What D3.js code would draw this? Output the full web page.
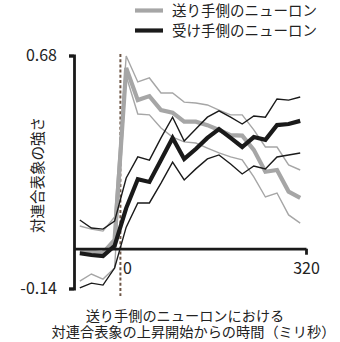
<!DOCTYPE html>
<html><head><meta charset="utf-8">
<script src="https://cdn.jsdelivr.net/npm/d3@7"></script>
<style>
html,body{margin:0;padding:0;background:#fff;}
svg{display:block;font-family:"Noto Sans CJK JP","Noto Sans",sans-serif;}
</style></head>
<body><svg id="c" width="340" height="342"></svg>
<script>
const times = [-70,-50,-30,-10,10,30,50,70,90,110,130,150,170,190,210,230,250,270,290,310];
const senderMean  = [-0.008,-0.010,-0.015,0.031,0.636,0.523,0.537,0.488,0.479,0.447,0.447,0.435,0.418,0.400,0.398,0.348,0.271,0.277,0.201,0.179];
const senderUpper = [0.080,0.069,0.062,0.112,0.678,0.587,0.601,0.548,0.548,0.516,0.513,0.506,0.488,0.471,0.471,0.418,0.358,0.358,0.295,0.277];
const senderLower = [-0.114,-0.089,-0.107,-0.068,0.608,0.474,0.471,0.425,0.393,0.376,0.372,0.354,0.337,0.323,0.313,0.253,0.182,0.196,0.119,0.090];
const receiverMean  = [-0.016,-0.022,-0.026,0.010,0.143,0.245,0.235,0.312,0.390,0.316,0.351,0.390,0.421,0.390,0.358,0.393,0.383,0.435,0.439,0.450];
const receiverUpper = [0.101,0.073,0.069,0.097,0.249,0.323,0.312,0.390,0.463,0.379,0.421,0.463,0.485,0.463,0.439,0.467,0.463,0.527,0.523,0.534];
const receiverLower = [-0.138,-0.121,-0.128,-0.068,0.076,0.161,0.161,0.231,0.305,0.242,0.281,0.316,0.330,0.298,0.263,0.291,0.281,0.323,0.330,0.337];
const xTicks = [0, 320];
const yTicks = [-0.14, 0.68];
const legendLabels = ["送り手側のニューロン", "受け手側のニューロン"];
const yTitle = "対連合表象の強さ";
const xTitleLines = ["送り手側のニューロンにおける", "対連合表象の上昇開始からの時間（ミリ秒）"];

const svg = d3.select("#c");
const x = d3.scaleLinear().domain([-80, 320]).range([74, 306]);
const y = d3.scaleLinear().domain([-0.14, 0.68]).range([288.5, 55.5]);
const gray = "#a6a6a6", dark = "#1a1a1a";

// dashed onset line
svg.append("line").attr("x1", x(0)).attr("x2", x(0)).attr("y1", 54).attr("y2", 296)
  .attr("stroke", "#6e5646").attr("stroke-width", 2).attr("stroke-dasharray", "3,2.2");

const line = d3.line().x((d, i) => x(times[i])).y(d => y(d));
const series = [
  {d: senderUpper, c: gray, w: 1.4},
  {d: senderLower, c: gray, w: 1.4},
  {d: senderMean, c: gray, w: 4.2},
  {d: receiverUpper, c: dark, w: 1.4},
  {d: receiverLower, c: dark, w: 1.4},
  {d: receiverMean, c: dark, w: 4.2}
];
series.forEach(s => {
  svg.append("path").attr("d", line(s.d)).attr("fill", "none")
    .attr("stroke", s.c).attr("stroke-width", s.w).attr("stroke-linejoin", "miter");
});

// y axis
const ya = svg.append("g").attr("transform", `translate(${x(-80)},0)`)
  .call(d3.axisLeft(y).tickValues(yTicks).tickFormat(d => d).tickSize(5).tickSizeOuter(5).tickPadding(12));
ya.select(".domain").attr("stroke", dark).attr("stroke-width", 2.8);
ya.selectAll(".tick line").attr("stroke", dark).attr("stroke-width", 2.8);
ya.selectAll(".tick text").attr("font-size", 16).attr("fill", "#222")
  .attr("font-family", "'Noto Sans CJK JP','Noto Sans',sans-serif");

// x axis
const xa = svg.append("g").attr("transform", `translate(0,${y(0)})`)
  .call(d3.axisBottom(x).tickValues(xTicks).tickSizeInner(6).tickSizeOuter(0).tickPadding(8));
xa.select(".domain").attr("stroke", dark).attr("stroke-width", 2.8);
xa.selectAll(".tick line").attr("stroke", dark).attr("stroke-width", 2.8)
  .attr("opacity", d => d === 0 ? 0 : 1);
xa.selectAll(".tick text").attr("font-size", 16).attr("fill", "#222")
  .attr("font-family", "'Noto Sans CJK JP','Noto Sans',sans-serif")
  .attr("dx", d => d === 0 ? 6.5 : 0);

// legend
const leg = svg.append("g");
legendLabels.forEach((t, i) => {
  const yy = 10.5 + i * 20;
  leg.append("line").attr("x1", 135).attr("x2", 163).attr("y1", yy).attr("y2", yy)
    .attr("stroke", i === 0 ? gray : dark).attr("stroke-width", 4.2);
  leg.append("text").attr("x", 172).attr("y", yy).attr("dy", "0.36em")
    .attr("font-size", 14.5).attr("fill", "#222").text(t);
});

// y title
svg.append("text").attr("transform", "translate(37.5,175) rotate(-90)")
  .attr("text-anchor", "middle").attr("dy", "0.36em").attr("font-size", 14.5)
  .attr("fill", "#222").text(yTitle);

// x title
svg.append("text").attr("x", 185).attr("y", 315.5).attr("dy", "0.36em")
  .attr("text-anchor", "middle").attr("font-size", 14.2).attr("fill", "#222").text(xTitleLines[0]);
svg.append("text").attr("x", 193.5).attr("y", 332).attr("dy", "0.36em")
  .attr("text-anchor", "middle").attr("font-size", 14.2).attr("fill", "#222").text(xTitleLines[1]);
</script></body></html>
